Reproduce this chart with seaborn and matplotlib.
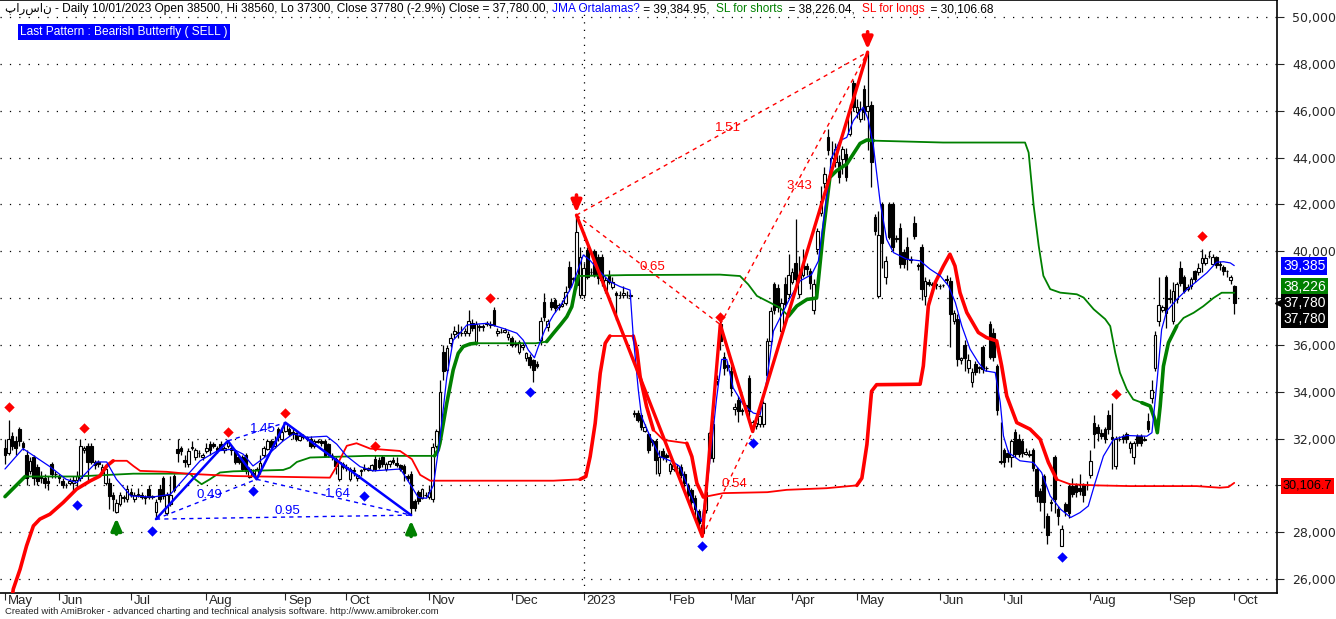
import numpy as np
import matplotlib
matplotlib.use("Agg")
import matplotlib.pyplot as plt
import matplotlib.transforms as mtransforms
from matplotlib.patches import ArrowStyle
from matplotlib.ticker import FuncFormatter
import seaborn as sns

# daily bars of the stock, prices in thousands (bar index 0 = first day shown)
opens_k = [
    31.6, 31.4, 32.1, 31.9, 32.4, 31.8, 31.3, 30.6, 31.2, 30.8,
    30.4, 30.3, 30.2, 30.9, 30.5, 30.4, 30.2, 30.0, 30.1, 30.1,
    30.25, 30.3, 31.5, 31.7, 31.7, 31.0, 31.0, 30.55, 30.1, 30.1,
    29.6, 28.85, 29.2, 29.5, 29.4, 29.7, 29.4, 29.6, 29.6, 29.5,
    29.85, 29.5, 28.85, 29.85, 30.3, 28.8, 29.2, 30.4, 31.55, 31.6,
    31.1, 30.9, 31.6, 31.2, 31.4, 31.2, 31.45, 31.75, 31.75, 31.6,
    31.75, 31.5, 31.7, 31.6, 31.45, 31.2, 31.2, 31.3, 30.35, 30.5,
    30.4, 30.6, 31.3, 31.55, 31.9, 31.7, 32.4, 32.0, 32.33, 32.4,
    32.3, 32.25, 31.95, 32.1, 32.05, 32.0, 31.7, 31.9, 31.9, 31.9,
    31.76, 31.3, 31.12, 30.26, 30.9, 30.8, 30.26, 30.6, 30.3, 30.6,
    30.7, 30.65, 30.65, 31.12, 31.1, 31.2, 30.7, 30.9, 31.1, 30.95,
    30.85, 30.83, 30.4, 30.5, 29.34, 29.7, 29.48, 29.6, 29.5, 29.4,
    31.7, 32.1, 35.7, 34.93, 36.1, 36.45, 36.55, 36.5, 36.5, 36.5,
    36.95, 36.07, 36.8, 36.8, 36.9, 36.9, 37.5, 36.5, 36.55, 36.55,
    36.35, 36.3, 36.1, 35.7, 35.9, 35.43, 35.5, 35.36, 35.2, 36.2,
    37.85, 36.78, 37.85, 37.9, 37.6, 37.65, 37.78, 39.34, 38.8, 38.56,
    38.13, 38.13, 40.05, 39.13, 40.0, 39.77, 39.77, 38.34, 39.0, 38.48,
    38.2, 38.15, 38.13, 38.15, 38.1, 33.1, 33.08, 33.0, 32.34, 32.2,
    31.95, 31.9, 30.52, 31.45, 31.3, 30.6, 30.7, 30.75, 30.8, 30.5,
    30.0, 29.8, 29.46, 28.9, 27.95, 28.96, 31.17, 31.17, 34.45, 36.87,
    35.5, 35.15, 34.9, 33.25, 33.66, 33.2, 33.45, 34.6, 32.5, 32.55,
    32.6, 32.6, 34.73, 36.16, 38.58, 38.44, 36.6, 38.58, 38.16, 38.7,
    39.5, 38.16, 39.0, 39.35, 39.15, 37.5, 40.1, 41.65, 42.9, 44.86,
    43.6, 43.8, 43.8, 43.93, 44.15, 45.0, 47.2, 45.93, 45.65, 46.93,
    46.0, 46.24, 41.44, 38.1, 42.0, 38.9, 42.0, 42.0, 40.55, 41.0,
    39.97, 40.16, 39.65, 41.2, 39.4, 40.2, 38.1, 38.7, 38.55, 38.62,
    38.52, 38.55, 38.8, 38.73, 37.0, 37.1, 35.35, 36.0, 35.03, 34.4,
    35.2, 35.05, 35.9, 35.0, 36.9, 36.5, 35.1, 31.0, 31.5, 31.4,
    31.2, 32.26, 32.0, 31.9, 31.35, 31.35, 31.5, 30.7, 29.77, 30.4,
    28.7, 29.3, 31.2, 29.0, 27.42, 29.2, 29.98, 29.98, 30.0, 29.9,
    30.04, 30.0, 30.43, 32.67, 32.5, 32.25, 32.4, 33.0, 32.05, 30.83,
    32.0, 32.1, 32.2, 31.6, 31.2, 32.13, 32.1, 31.95, 32.75, 33.74,
    35.02, 37.0, 37.5, 38.9, 37.95, 37.0, 37.94, 39.3, 38.9, 38.4,
    38.5, 39.15, 39.1, 39.5, 39.5, 39.8, 39.45, 39.76, 39.45, 39.33,
    39.15, 38.76, 38.5]
closes_k = [
    31.3, 32.0, 31.7, 31.6, 31.9, 31.65, 30.3, 31.05, 30.3, 30.2,
    30.3, 30.1, 30.1, 30.5, 30.5, 30.3, 30.0, 30.0, 30.2, 30.25,
    30.4, 31.7, 31.6, 31.0, 31.0, 30.85, 30.9, 30.8, 30.7, 29.55,
    29.4, 29.25, 29.6, 29.45, 29.85, 29.6, 29.6, 29.65, 29.5, 29.45,
    29.5, 29.55, 29.3, 29.4, 29.55, 29.6, 29.6, 29.8, 31.4, 31.45,
    31.0, 31.45, 31.65, 31.5, 31.4, 31.3, 31.6, 31.5, 31.7, 31.5,
    31.55, 31.6, 31.85, 31.5, 31.0, 31.0, 30.7, 30.6, 30.7, 30.55,
    30.7, 30.95, 31.6, 31.9, 31.65, 31.9, 32.05, 32.3, 32.68, 32.2,
    32.2, 31.97, 32.1, 32.05, 32.0, 31.7, 31.9, 31.85, 31.8, 31.26,
    31.33, 31.3, 30.83, 31.0, 30.8, 30.75, 30.7, 30.65, 30.45, 30.65,
    30.76, 30.75, 30.85, 30.7, 30.8, 30.9, 30.9, 31.05, 31.0, 30.85,
    30.7, 30.55, 30.33, 29.05, 29.05, 29.34, 29.84, 29.6, 29.7, 31.66,
    32.33, 34.0, 34.9, 35.85, 36.3, 36.6, 36.5, 36.52, 36.6, 37.0,
    36.7, 36.9, 36.78, 36.75, 36.92, 36.85, 36.85, 36.6, 36.55, 36.65,
    36.45, 36.0, 36.05, 36.14, 36.0, 35.64, 35.14, 34.93, 35.1, 37.0,
    37.2, 37.0, 37.63, 37.56, 37.7, 37.75, 38.27, 38.49, 38.84, 40.83,
    39.77, 39.27, 38.91, 39.13, 39.0, 38.84, 38.77, 38.77, 38.7, 38.7,
    38.15, 38.15, 38.2, 38.15, 38.15, 33.05, 32.8, 32.5, 32.48, 31.5,
    31.85, 31.1, 31.23, 31.23, 31.2, 30.9, 30.85, 30.75, 30.45, 30.1,
    29.6, 29.3, 29.0, 28.4, 28.3, 29.7, 32.24, 32.6, 34.55, 36.16,
    35.0, 35.05, 34.16, 33.35, 33.16, 33.16, 33.35, 33.16, 32.7, 32.65,
    32.95, 33.5, 36.16, 37.44, 37.5, 37.6, 37.8, 37.73, 39.0, 39.1,
    38.8, 39.0, 39.5, 39.25, 38.65, 38.58, 40.87, 42.15, 43.3, 44.3,
    44.0, 44.36, 43.15, 44.36, 43.15, 46.0, 46.15, 46.15, 46.07, 45.93,
    46.2, 43.8, 40.87, 40.7, 40.37, 39.6, 40.6, 40.16, 40.54, 39.45,
    39.45, 39.66, 39.63, 40.65, 39.37, 38.38, 38.73, 38.6, 38.62, 38.55,
    38.52, 38.55, 38.75, 37.3, 37.38, 35.4, 35.42, 35.46, 35.35, 34.86,
    34.86, 35.0, 34.96, 35.0, 35.5, 35.5, 33.2, 31.05, 30.98, 31.2,
    31.9, 31.33, 31.33, 31.4, 31.42, 31.3, 30.73, 29.55, 29.27, 29.27,
    27.9, 29.25, 29.4, 28.7, 28.13, 28.9, 28.84, 29.62, 29.7, 29.75,
    29.6, 30.0, 31.04, 32.18, 32.25, 32.1, 31.96, 32.4, 32.0, 31.96,
    32.0, 31.96, 31.96, 31.8, 31.8, 31.82, 31.8, 32.0, 32.4, 34.07,
    36.44, 37.7, 37.6, 37.37, 38.0, 38.3, 38.6, 38.65, 38.3, 38.45,
    38.8, 38.8, 39.3, 39.7, 39.7, 39.8, 39.75, 39.43, 39.4, 39.15,
    39.15, 38.9, 37.78]
highs_k = [
    32.0, 32.8, 32.3, 32.1, 32.5, 31.9, 31.5, 31.2, 31.3, 30.9,
    30.6, 30.5, 30.4, 31.0, 30.6, 30.5, 30.3, 30.1, 30.3, 30.4,
    30.6, 32.0, 31.7, 31.8, 31.8, 31.1, 31.1, 30.9, 30.8, 30.3,
    29.7, 29.4, 29.7, 29.6, 30.0, 29.9, 29.7, 29.9, 29.7, 29.6,
    30.0, 29.6, 29.4, 30.0, 30.4, 29.7, 30.4, 30.5, 32.0, 31.7,
    31.3, 31.6, 31.9, 31.6, 31.5, 31.4, 31.8, 31.9, 31.85, 31.7,
    31.9, 31.7, 31.9, 31.7, 31.5, 31.3, 31.3, 31.4, 30.8, 30.7,
    30.8, 31.3, 31.7, 32.0, 32.0, 32.1, 32.5, 32.4, 32.7, 32.5,
    32.4, 32.3, 32.2, 32.2, 32.1, 32.1, 32.0, 32.0, 32.0, 32.0,
    31.8, 31.4, 31.2, 31.1, 31.0, 30.9, 30.8, 30.8, 30.5, 30.7,
    30.9, 30.8, 30.9, 31.3, 31.2, 31.3, 31.0, 31.1, 31.2, 31.2,
    30.9, 30.9, 30.5, 30.6, 29.4, 29.8, 29.9, 29.7, 30.0, 31.8,
    32.4, 34.5, 36.0, 36.0, 36.5, 36.8, 36.9, 36.8, 36.7, 37.5,
    37.1, 37.0, 36.9, 36.9, 37.0, 37.0, 37.6, 36.7, 36.7, 36.7,
    36.6, 36.4, 36.2, 36.2, 36.1, 35.7, 35.6, 35.4, 35.3, 37.2,
    38.2, 37.1, 38.0, 38.0, 37.8, 37.9, 38.5, 39.6, 38.9, 41.54,
    40.2, 39.5, 40.2, 39.3, 40.1, 39.9, 39.9, 38.9, 39.2, 38.9,
    38.3, 38.3, 38.5, 38.3, 38.2, 33.2, 33.2, 33.1, 32.6, 32.3,
    32.0, 32.0, 31.5, 31.6, 31.4, 31.0, 31.0, 30.9, 30.9, 30.6,
    30.1, 29.9, 29.6, 29.0, 28.4, 30.0, 32.3, 32.8, 34.7, 37.0,
    35.7, 35.3, 35.1, 33.5, 33.8, 33.3, 33.5, 34.7, 32.8, 32.7,
    33.0, 33.6, 36.3, 37.6, 38.7, 38.6, 38.0, 38.9, 39.9, 39.3,
    41.37, 39.8, 40.1, 39.5, 39.3, 38.8, 41.0, 42.8, 43.6, 45.2,
    44.7, 44.6, 44.1, 44.5, 44.4, 46.3, 47.3, 46.5, 46.4, 47.1,
    48.5, 46.4, 41.6, 41.7, 42.1, 39.8, 42.1, 42.1, 40.7, 41.2,
    40.1, 40.6, 39.8, 41.5, 39.5, 40.3, 38.9, 38.8, 38.7, 38.7,
    38.6, 38.6, 39.0, 38.9, 37.5, 37.3, 35.5, 36.2, 35.6, 35.0,
    35.3, 35.1, 36.0, 35.1, 37.0, 36.7, 35.2, 32.7, 31.6, 31.5,
    32.0, 32.4, 32.2, 32.0, 31.6, 31.5, 31.6, 30.8, 29.9, 30.5,
    28.8, 29.4, 31.3, 29.1, 28.3, 29.3, 30.1, 30.3, 30.1, 30.5,
    30.1, 30.2, 31.5, 33.0, 32.6, 32.4, 32.5, 33.2, 33.5, 32.1,
    32.1, 32.2, 32.3, 31.9, 31.9, 32.2, 32.2, 32.1, 33.1, 34.5,
    36.6, 38.9, 37.7, 39.0, 38.4, 38.7, 38.7, 39.6, 39.0, 38.6,
    38.9, 39.2, 39.5, 40.1, 39.9, 40.0, 39.9, 39.8, 39.6, 39.4,
    39.2, 39.0, 38.56]
lows_k = [
    30.9, 31.3, 31.5, 31.3, 31.7, 31.5, 30.0, 30.5, 30.0, 30.0,
    30.1, 29.9, 29.8, 30.3, 30.3, 30.1, 29.9, 29.9, 30.0, 29.7,
    29.9, 30.2, 31.4, 30.2, 30.9, 30.7, 30.8, 30.5, 30.0, 29.0,
    28.9, 28.8, 29.1, 29.3, 29.3, 29.5, 29.3, 29.5, 29.4, 29.2,
    29.4, 29.4, 28.56, 29.3, 29.4, 28.75, 29.1, 29.7, 31.0, 31.3,
    30.8, 30.8, 31.5, 31.1, 31.2, 31.1, 31.4, 31.3, 31.6, 31.4,
    31.5, 31.4, 31.6, 31.3, 30.9, 30.9, 30.6, 30.5, 30.3, 30.4,
    30.26, 30.5, 31.2, 31.5, 31.6, 31.6, 31.9, 31.9, 32.3, 32.1,
    32.0, 31.9, 31.9, 32.0, 31.9, 31.6, 31.6, 31.8, 31.7, 31.2,
    31.2, 31.1, 30.5, 30.2, 30.7, 30.6, 30.2, 30.4, 30.2, 30.4,
    30.6, 30.6, 30.6, 30.6, 30.7, 30.8, 30.6, 30.8, 30.9, 30.8,
    30.6, 30.2, 30.2, 28.73, 28.9, 29.2, 29.4, 29.5, 29.4, 29.3,
    31.6, 32.0, 34.5, 34.8, 35.9, 36.3, 36.3, 36.4, 36.4, 36.4,
    36.6, 36.0, 36.6, 36.6, 36.8, 36.7, 36.8, 36.4, 36.5, 36.5,
    36.2, 35.9, 35.9, 35.6, 35.8, 35.3, 35.0, 34.43, 35.0, 36.0,
    37.0, 36.6, 37.5, 37.4, 37.5, 37.6, 37.7, 38.3, 38.7, 38.4,
    38.0, 38.0, 38.8, 39.0, 38.9, 38.6, 38.5, 38.2, 38.6, 38.4,
    37.06, 38.0, 38.0, 38.0, 38.0, 32.9, 32.7, 32.36, 32.3, 31.4,
    31.7, 30.5, 30.4, 31.1, 31.0, 30.5, 30.6, 30.6, 30.3, 29.9,
    29.5, 29.1, 28.7, 28.2, 27.82, 28.8, 30.9, 31.0, 34.3, 35.8,
    34.7, 34.9, 33.8, 33.0, 32.7, 33.0, 33.2, 32.7, 32.3, 32.4,
    32.5, 32.5, 34.6, 36.0, 37.3, 37.4, 36.4, 37.6, 38.0, 38.6,
    38.6, 38.0, 38.9, 39.0, 38.4, 37.3, 39.9, 41.5, 42.7, 44.1,
    43.4, 43.6, 42.9, 43.3, 43.0, 44.9, 46.0, 45.7, 45.5, 45.6,
    44.3, 42.72, 40.7, 38.0, 39.3, 38.6, 40.5, 40.0, 40.4, 39.3,
    39.3, 39.2, 39.5, 40.5, 39.2, 37.9, 37.7, 38.5, 38.5, 38.4,
    38.4, 38.45, 38.6, 35.9, 36.9, 35.1, 35.2, 34.9, 34.8, 34.2,
    34.7, 34.8, 34.8, 34.9, 35.4, 35.3, 33.0, 30.9, 30.8, 31.0,
    30.8, 31.2, 31.2, 31.2, 31.3, 31.2, 30.6, 29.3, 28.9, 28.2,
    27.5, 28.9, 28.8, 28.3, 27.4, 28.7, 28.6, 29.5, 29.5, 29.6,
    29.3, 29.8, 30.3, 31.6, 31.9, 32.0, 31.8, 32.2, 30.7, 30.7,
    31.9, 31.8, 31.8, 31.4, 30.9, 31.7, 31.7, 31.9, 32.3, 33.5,
    34.9, 36.8, 37.4, 36.7, 37.8, 36.9, 37.8, 38.5, 38.2, 38.3,
    38.4, 38.7, 39.0, 39.1, 39.4, 39.7, 39.4, 39.3, 39.2, 39.0,
    38.9, 38.6, 37.3]

# JMA average (blue), read at turning points
jma_bar = [0, 5, 12.5, 17, 20, 25.5, 28.3, 31, 35, 41, 46, 50.5, 54.3, 59, 63.5, 66.3, 69, 72.8,
           77.4, 80.2, 84, 89.5, 92.3, 95, 98.8, 102.5, 110, 113, 115, 117.3, 119.2, 121, 122.9,
           124.7, 126.9, 128.5, 134, 138.7, 142.4, 144.2, 145.6, 147.3, 148.4, 150.2, 152.6, 155.3,
           157.7, 159.1, 160.9, 162.7, 165.5, 168.3, 171.1, 173.9, 174.8, 176.2, 177.1, 179.5, 182.2,
           185.9, 187.8, 189.6, 192.4, 193.8, 195.2, 196.6, 198, 199.4, 200.8, 202.6, 205.4, 208.2,
           210.1, 211.9, 213.8, 216.1, 218.4, 221.2, 224.4, 226.3, 228.2, 230, 232.3, 234.2, 236,
           238.8, 240.2, 241.6, 243.5, 245.3, 247.2, 250.9, 254.6, 257.4, 260.2, 262.5, 264.4, 266.2,
           268.5, 270.8, 272.7, 275.5, 276.9, 277.8, 279.2, 282.4, 286.1, 288.4, 290.8, 293.7, 296.5,
           299.1, 301.4, 303.3, 305.6, 308.4, 312.1, 317.7, 319.1, 320.4, 321.8, 323.2, 326, 328.8,
           331.6, 334.4, 337.1, 339, 340.9, 342]
jma_k = [30.7, 31.57, 30.8, 30.26, 30.12, 31.0, 31.0, 30.26, 29.55, 29.5, 29.62, 30.4, 31.05, 31.47,
         31.55, 31.33, 30.83, 31.26, 31.9, 32.2, 32.05, 32.1, 31.76, 31.26, 30.8, 30.62, 30.7, 29.98,
         29.48, 29.45, 30.0, 31.97, 34.6, 36.2, 36.56, 36.85, 36.92, 36.7, 36.5, 36.2, 35.78, 35.45,
         35.93, 36.64, 37.28, 37.85, 38.49, 39.06, 39.84, 39.62, 39.13, 38.7, 38.49, 38.34, 36.35,
         34.08, 32.94, 32.08, 31.23, 31.0, 30.8, 30.09, 28.96, 28.46, 29.8, 31.74, 33.74, 35.38,
         35.38, 34.16, 33.45, 33.09, 33.02, 34.45, 36.59, 37.3, 38.0, 38.73, 39.0, 39.58, 41.87,
         44.0, 44.72, 44.86, 45.57, 46.15, 45.6, 44.5, 42.08, 40.51, 39.94, 39.66, 39.59, 39.23,
         38.95, 38.52, 37.81, 36.81, 35.82, 35.25, 34.89, 34.82, 33.54, 32.11, 31.4, 31.05, 30.98,
         30.55, 29.55, 28.98, 28.63, 28.84, 29.12, 30.11, 31.25, 31.96, 32.13, 32.1, 32.25, 34.24,
         36.66, 37.44, 37.94, 38.36, 38.72, 39.08, 39.53, 39.55, 39.5, 39.385]

# SL for shorts (green)
sls_bar = [0, 5.6, 20, 26.4, 35.7, 51.5, 52.9, 54.7, 57, 59.8, 63.5, 77.4, 79.3, 81.2, 84.9, 100.6,
           119.5, 120.5, 121, 122.9, 124.7, 126.1, 127.5, 129.4, 131.2, 147.7, 150.7, 152.6, 154.5,
           156.3, 157.7, 158.6, 159.5, 172.9, 198.9, 204.5, 206.8, 209.2, 212.9, 215.6, 218, 220.3,
           223.1, 225.8, 227.7, 229.5, 231.4, 234.2, 236, 237.9, 239.8, 241.6, 261, 283.8, 284.8,
           286.2, 287.6, 288.9, 290.8, 293.6, 298.2, 300.1, 302.9, 306.1, 307.5, 308.9, 310.2, 312.1,
           313.9, 316.3, 318.6, 319.9, 320.6, 321.4, 322.3, 323.7, 326, 327.9, 330.7, 333.4, 336.2,
           338.5, 342]
sls_k = [29.52, 30.38, 30.38, 30.43, 30.5, 30.5, 30.26, 30.05, 30.26, 30.55, 30.6, 30.66, 30.76,
         31.0, 31.19, 31.26, 31.26, 31.5, 31.8, 33.5, 34.93, 35.64, 35.93, 36.04, 36.07, 36.07,
         36.14, 36.5, 36.85, 37.2, 37.63, 38.34, 38.94, 38.98, 39.0, 38.94, 38.58, 38.09, 37.8,
         37.59, 37.23, 37.66, 37.94, 38.0, 40.87, 43.15, 43.44, 43.72, 44.15, 44.6, 44.75, 44.72,
         44.64, 44.64, 44.21, 41.94, 40.23, 38.95, 38.38, 38.23, 38.16, 38.02, 37.52, 37.1, 36.8,
         35.66, 34.81, 34.1, 33.67, 33.53, 33.39, 32.82, 32.25, 33.39, 35.09, 36.09, 36.8, 37.15,
         37.37, 37.65, 38.0, 38.226, 38.226]
sls_thick = [(0, 5.6), (119.5, 131.2), (150.7, 159.5), (218, 241.6), (316.3, 326)]

# SL for longs (red)
sll_bar = [1.8, 2.3, 4.2, 6, 7.9, 9.7, 12.5, 16.2, 19.9, 23.7, 26.4, 28.3, 30.1, 33.9, 35.7, 37.6,
           45, 50.5, 63.5, 90.4, 91.8, 95.1, 97.8, 101.6, 109.9, 113.2, 115.5, 118.3, 124.7, 152.6,
           160, 161.6, 162.8, 164.2, 165.6, 167, 168.3, 174.8, 175.8, 176.7, 178.5, 180.4, 183.2,
           189.7, 191.1, 192.5, 194.3, 199.9, 212.1, 217.5, 228.6, 237, 238.4, 239.8, 241.1, 242.5,
           254.6, 255.5, 256.9, 258.8, 261.1, 262.9, 264.3, 265.7, 267.6, 270.8, 273.1, 275.9, 277.3,
           278.7, 281.5, 285.2, 288, 290.3, 292.6, 296.3, 303.7, 313, 331.6, 338, 340.4, 342]
sll_k = [25.0, 25.57, 26.42, 27.42, 28.27, 28.56, 28.77, 29.27, 29.84, 30.19, 30.4, 30.83, 31.05,
         31.05, 30.83, 30.62, 30.58, 30.5, 30.4, 30.33, 30.69, 31.69, 31.8, 31.57, 31.47, 31.12,
         30.45, 30.2, 30.2, 30.2, 30.26, 30.38, 31.23, 32.65, 34.79, 36.07, 36.38, 36.38, 35.78,
         34.65, 33.37, 32.37, 31.94, 31.8, 31.23, 30.09, 29.5, 29.67, 29.71, 29.81, 29.88, 30.0,
         30.31, 31.74, 34.02, 34.3, 34.32, 35.1, 37.67, 38.66, 39.37, 39.87, 39.37, 38.23, 37.38,
         36.53, 36.31, 36.17, 35.1, 33.82, 32.68, 32.4, 31.97, 30.98, 30.26, 30.05, 30.0, 29.97,
         29.97, 29.9, 29.93, 30.107]
sll_thick = [(1.8, 30.1), (160, 168.3), (174.8, 180.4), (189.7, 194.3), (237, 292.6)]

# harmonic patterns: X, A, B, C, D points
bull_bar = [42, 62, 70, 78, 113]
bull_k = [28.56, 31.9, 30.26, 32.68, 28.73]
bull_ratios = ["0.49", "1.45", "1.64", "0.95"]
bull_ratio_pos = [(57, 29.58), (71.8, 32.41), (92.7, 29.63), (78.7, 28.9)]
bear_bar = [159, 194, 199, 208, 240]
bear_k = [41.54, 27.82, 36.87, 32.3, 48.5]
bear_ratios = ["0.65", "0.54", "3.43", "1.51"]
bear_ratio_pos = [(180, 39.33), (202.8, 30.06), (221, 42.78), (201.2, 45.26)]

# swing markers
top_bar = [1, 22, 62, 78, 103, 135, 199, 309, 333]
top_k = [33.35, 32.45, 32.28, 33.1, 31.7, 38.0, 37.2, 33.9, 40.65]
bottom_bar = [20, 41, 69, 100, 146, 194, 208, 294]
bottom_k = [29.16, 28.05, 29.78, 29.55, 33.99, 27.4, 31.8, 26.94]
buy_bar = [31, 113]
buy_tip_k = [28.6, 28.5]
sell_bar = [159, 240]
sell_tip_k = [41.65, 48.62]

month_ticks = [0, 15, 35, 56, 78, 95, 118, 141, 161, 185, 202, 219, 237, 260, 278, 302, 324, 342]
month_labels = ["May", "Jun", "Jul", "Aug", "Sep", "Oct", "Nov", "Dec", "2023", "Feb", "Mar",
                "Apr", "May", "Jun", "Jul", "Aug", "Sep", "Oct"]

sns.set_style("white")
plt.rcParams["font.family"] = ["Liberation Sans", "DejaVu Sans"]

o = np.array(opens_k) * 1000
c = np.array(closes_k) * 1000
h = np.maximum(np.array(highs_k) * 1000, np.maximum(o, c))
l = np.minimum(np.array(lows_k) * 1000, np.minimum(o, c))
x = np.arange(len(c))

fig = plt.figure(figsize=(13.36, 6.19), dpi=100)
ax = fig.add_axes([0, 26 / 619, 1277 / 1336, 593 / 619])

# dotted grid
for v in range(26000, 50001, 2000):
    ax.axhline(v, color="black", lw=0.9, ls=(0, (1, 6.5)), zorder=0)
ax.axvline(161, color="black", lw=0.9, ls=(0, (1, 5)), zorder=0)

# candles
up = c >= o
ax.vlines(x, l, h, color="black", lw=0.9, zorder=2)
ax.bar(x[up], (c - o)[up], bottom=o[up], width=0.72, color="white", edgecolor="black", lw=0.8, zorder=3)
ax.bar(x[~up], (o - c)[~up], bottom=c[~up], width=0.72, color="black", edgecolor="black", lw=0.8, zorder=3)

# indicator lines
sns.lineplot(x=sls_bar, y=np.array(sls_k) * 1000, ax=ax, color="#008000", lw=1.3, sort=False, estimator=None, zorder=4)
sns.lineplot(x=sll_bar, y=np.array(sll_k) * 1000, ax=ax, color="#FF0000", lw=1.3, sort=False, estimator=None, zorder=4)
for a, b in sls_thick:
    sel = [(bb, v * 1000) for bb, v in zip(sls_bar, sls_k) if a <= bb <= b]
    ax.plot([s[0] for s in sel], [s[1] for s in sel], color="#008000", lw=2.6, zorder=4)
for a, b in sll_thick:
    sel = [(bb, v * 1000) for bb, v in zip(sll_bar, sll_k) if a <= bb <= b]
    ax.plot([s[0] for s in sel], [s[1] for s in sel], color="#FF0000", lw=2.6, zorder=4)
sns.lineplot(x=jma_bar, y=np.array(jma_k) * 1000, ax=ax, color="#0000FF", lw=0.9, sort=False, estimator=None, zorder=5)

# harmonic patterns
def draw_pattern(bars, vals, color, ratios, ratio_pos, lw):
    v = np.array(vals) * 1000
    ax.plot(bars, v, color=color, lw=lw, zorder=6)
    for i, j in [(0, 2), (1, 3), (2, 4), (0, 4)]:
        ax.plot([bars[i], bars[j]], [v[i], v[j]], color=color, lw=1, ls=(0, (3, 3)), zorder=6)
    for t, (px, pv) in zip(ratios, ratio_pos):
        ax.text(px, pv * 1000, t, color=color, fontsize=9.5, ha="center", va="center", zorder=7)

draw_pattern(bull_bar, bull_k, "#0000FF", bull_ratios, bull_ratio_pos, 1.8)
draw_pattern(bear_bar, bear_k, "#FF0000", bear_ratios, bear_ratio_pos, 2.4)

sns.scatterplot(x=top_bar, y=np.array(top_k) * 1000, ax=ax, color="#FF0000", marker="D", s=28, linewidth=0, zorder=7)
sns.scatterplot(x=bottom_bar, y=np.array(bottom_k) * 1000, ax=ax, color="#0000FF", marker="D", s=28, linewidth=0, zorder=7)
arrow = ArrowStyle("-|>", head_length=0.5, head_width=0.22)
for b, t in zip(buy_bar, buy_tip_k):
    ax.annotate("", xy=(b, t * 1000), xytext=(b, t * 1000 - 680),
                arrowprops=dict(arrowstyle=arrow, color="#008000", lw=2.6, mutation_scale=14,
                                shrinkA=0, shrinkB=0), zorder=7)
for b, t in zip(sell_bar, sell_tip_k):
    ax.annotate("", xy=(b, t * 1000), xytext=(b, t * 1000 + 750),
                arrowprops=dict(arrowstyle=arrow, color="#FF0000", lw=2.6, mutation_scale=14,
                                shrinkA=0, shrinkB=0), zorder=7)

# axes
ax.set_xlim(-1.39, 353.9)
ax.set_ylim(25405, 50726)
ax.yaxis.tick_right()
ax.set_yticks(range(26000, 50001, 2000))
# 38,000 and 30,000 sit under the last-value boxes on the price scale
ax.yaxis.set_major_formatter(FuncFormatter(lambda v, p: "" if v in (38000, 30000) else f"{v:,.0f}"))
ax.tick_params(axis="y", length=5, direction="out", labelsize=9, pad=6, right=True, left=False)
for lab in ax.get_yticklabels():
    lab.set_family(["DejaVu Sans"])
ax.set_xticks(month_ticks)
ax.set_xticklabels([])
ax.tick_params(axis="x", length=5, direction="out", bottom=True)
ax.set_xlabel("")
ax.set_ylabel("")
for s in ["top", "right", "bottom"]:
    ax.spines[s].set_visible(True)
    ax.spines[s].set_color("black")
    ax.spines[s].set_linewidth(1.2)
ax.spines["left"].set_visible(False)
if ax.get_legend():
    ax.get_legend().remove()

xt = mtransforms.blended_transform_factory(ax.transData, ax.transAxes)
for t, lab in zip(month_ticks, month_labels):
    ax.text(t + 0.8, -0.013, lab, transform=xt, ha="left", va="center", fontsize=9.5)

# last-value boxes on the price scale
yt = mtransforms.blended_transform_factory(ax.transAxes, ax.transData)
boxes = [("39,385", 39367, "#0000FF", "white", 10), ("38,226", 38471, "#008000", "white", 10),
         ("37,780", 37788, "black", "white", 10), ("37,780", 37105, "black", "white", 10),
         ("30,106.7", 29974, "#FF0000", "black", 9.2)]
for txt, yv, bg, fg, fs in boxes:
    ax.text(1.0 + 6 / 1277, yv, txt, transform=yt, ha="left", va="center", fontsize=fs, color=fg,
            clip_on=False, zorder=10,
            bbox=dict(boxstyle="square,pad=0.15", facecolor=bg, edgecolor="none"))
ax.plot([1.0 + 3 / 1277], [37788], marker="<", color="black", ms=7, transform=yt, clip_on=False)

# header line with coloured parts
header_parts = [
    ("پارسان - Daily 10/01/2023 Open 38500, Hi 38560, Lo 37300, Close 37780 (-2.9%) Close = 37,780.00, ", "black"),
    ("JMA Ortalamas?", "#0000FF"),
    (" = 39,384.95,  ", "black"),
    ("SL for shorts", "#008000"),
    ("  = 38,226.04,  ", "black"),
    ("SL for longs", "#FF0000"),
    ("  = 30,106.68", "black"),
]
renderer = fig.canvas.get_renderer()
xpos = 5 / 1336
for txt, col in header_parts:
    t = fig.text(xpos, 1 - 9 / 619, txt, color=col, fontsize=8.6, ha="left", va="center")
    xpos = t.get_window_extent(renderer=renderer).x1 / fig.bbox.width

fig.text(20 / 1336, 1 - 32 / 619, "Last Pattern : Bearish Butterfly ( SELL )", color="white", fontsize=8.6,
         ha="left", va="center", bbox=dict(boxstyle="square,pad=0.2", facecolor="#0000FF", edgecolor="none"))
fig.text(5 / 1336, 1 - 612 / 619,
         "Created with AmiBroker - advanced charting and technical analysis software. http://www.amibroker.com",
         fontsize=6.8, ha="left", va="center")

fig.savefig("out.png", dpi=100)
